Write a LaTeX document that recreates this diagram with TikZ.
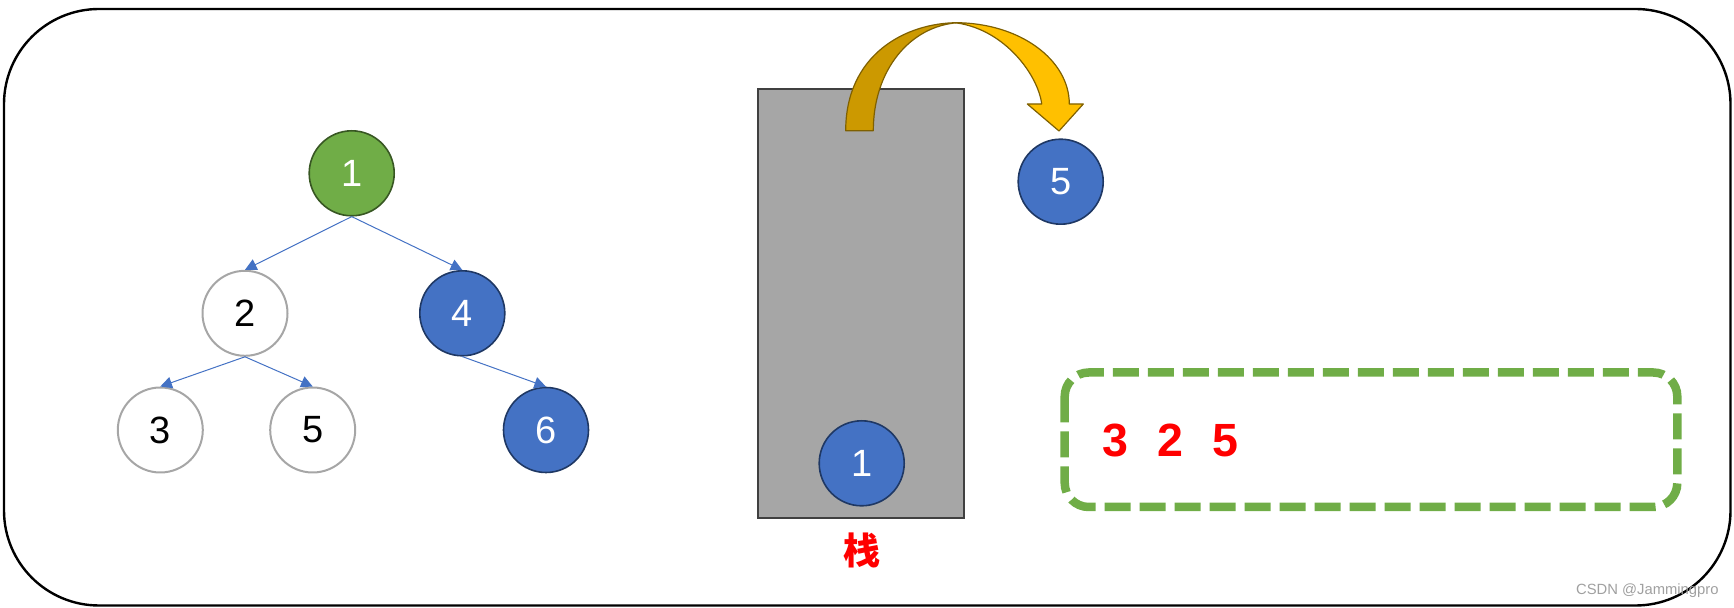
\documentclass[tikz,border=0pt]{standalone}
\usepackage{fontspec}
\setmainfont{Liberation Sans}
\newfontfamily\cjk{Noto Sans CJK SC}
\usetikzlibrary{arrows.meta, positioning}
\definecolor{nodeGreen}{RGB}{112,173,71}
\definecolor{nodeGreenDark}{RGB}{56,87,35}
\definecolor{nodeBlue}{RGB}{68,114,196}
\definecolor{nodeBlueDark}{RGB}{31,56,100}
\definecolor{ringGray}{RGB}{166,166,166}
\definecolor{stackGray}{RGB}{166,166,166}
\definecolor{stackEdge}{RGB}{64,64,64}
\definecolor{arrowGold}{RGB}{255,192,0}
\definecolor{arrowShade}{RGB}{204,153,0}
\definecolor{arrowEdge}{RGB}{127,96,0}
\definecolor{markGray}{RGB}{160,160,160}

\begin{document}
\begin{tikzpicture}[x=0.5pt, y=-0.5pt,
    treenode/.style={circle, minimum size=42.5pt, inner sep=0pt, font=\fontsize{19}{19}\selectfont},
    visited/.style={treenode, fill=nodeBlue, draw=nodeBlueDark, line width=0.8pt, text=white},
    current/.style={treenode, fill=nodeGreen, draw=nodeGreenDark, line width=0.8pt, text=white},
    fresh/.style={treenode, fill=white, draw=ringGray, line width=1pt},
    link/.style={nodeBlue, line width=0.5pt, -{Triangle[length=5.8pt, width=5.8pt]}},
    turn/.style={draw=arrowEdge, line width=0.6pt, line join=round}]
    \useasboundingbox (0,0) rectangle (1734,608);

    % Marco exterior
    \draw[line width=1.2pt, rounded corners=47.5pt] (4,9) rectangle (1730.5,605.5);

    % Arbol
    \node[current] (n1) at (351.7,173.3) {1};
    \node[fresh]   (n2) at (245,313.3) {2};
    \node[visited] (n4) at (462.3,313.3) {4};
    \node[fresh]   (n3) at (160.3,430) {3};
    \node[fresh]   (n5) at (312.7,430) {5};
    \node[visited] (n6) at (546,430) {6};

    \draw[link] (n1.south) -- (n2.north);
    \draw[link] (n1.south) -- (n4.north);
    \draw[link] (n2.south) -- (n3.north);
    \draw[link] (n2.south) -- (n5.north);
    \draw[link] (n4.south) -- (n6.north);

    % Pila
    \node[fill=stackGray, draw=stackEdge, line width=1pt, inner sep=0pt,
          minimum width=102.85pt, minimum height=214.65pt] (stack) at (861.15,303.65) {};
    \node[visited] (s1) at (861.7,463.3) {1};
    \node[text=red, font=\cjk\bfseries\fontsize{18.5}{19}\selectfont] (stacklabel) at (861.7,550) {栈};

    % Flecha de salida
    \fill[arrowGold, turn] (955,22.7) .. controls (1020,22.7) and (1069.3,60) .. (1069.3,104)
        -- (1083.3,104) -- (1059,131) -- (1027.3,104) -- (1041.7,104)
        .. controls (1038,75) and (1005,30) .. (957,23) -- cycle;
    \fill[arrowShade, turn] (845.7,130.7) .. controls (845.7,55) and (905,22.7) .. (958,22.7)
        .. controls (910,26) and (873.3,70) .. (873.3,130.7) -- cycle;

    \node[visited] (p5) at (1060.7,181.7) {5};

    % Secuencia de salida
    \draw[nodeGreen, line width=4.25pt, rounded corners=12pt, dash pattern=on 13pt off 4.5pt]
        (1064.7,372.5) rectangle (1677.3,507);
    \node[text=red, font=\bfseries\fontsize{23.3}{24}\selectfont] (seq) at (1170.4,440)
        {3\hspace{14.5pt}2\hspace{14.5pt}5};

    % Marca de agua
    \node[anchor=east, text=markGray, font=\fontsize{7.4}{8}\selectfont, inner sep=0pt] (mark)
        at (1719,590.5) {CSDN @Jammingpro};
\end{tikzpicture}
\end{document}
